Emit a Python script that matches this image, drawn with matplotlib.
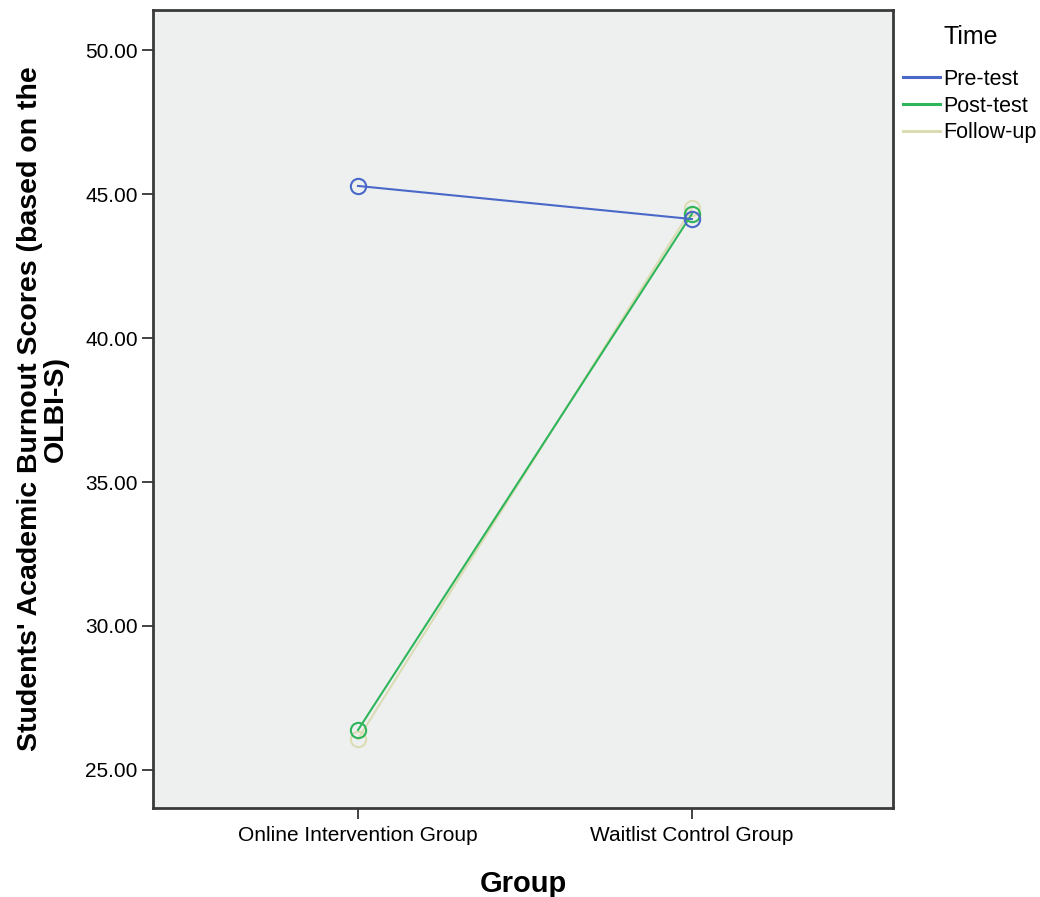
import matplotlib
matplotlib.use("Agg")
import matplotlib.pyplot as plt
from matplotlib.lines import Line2D

plt.rcParams['font.family'] = ['Liberation Sans', 'DejaVu Sans']

groups = ["Online Intervention Group", "Waitlist Control Group"]
series_names = ["Pre-test", "Post-test", "Follow-up"]
pre_test = [45.28, 44.13]
post_test = [26.39, 44.31]
follow_up = [26.08, 44.51]
y_ticks = [25.0, 30.0, 35.0, 40.0, 45.0, 50.0]
colors = ["#4a68c8", "#2fb55a", "#dcdcb4"]

fig = plt.figure(figsize=(10.4, 8.97), dpi=100)
ax = fig.add_axes([153/1040, 1-808/897, 740/1040, 798/897])
ax.set_facecolor("#eef0f0")

xs = list(range(len(groups)))
# draw in reverse order so Pre-test is on top
for vals, col in reversed(list(zip([pre_test, post_test, follow_up], colors))):
    ax.plot(xs, vals, color=col, lw=1.5, marker='o', markersize=11,
            markerfacecolor='none', markeredgecolor=col, markeredgewidth=1.5)

ax.set_xlim(-0.614, 1.602)
ax.set_ylim(23.68, 51.39)
ax.set_yticks(y_ticks)
ax.set_yticklabels([f"{v:.2f}" for v in y_ticks], fontsize=15)
ax.set_xticks(xs)
ax.set_xticklabels(groups, fontsize=15)
ax.tick_params(axis='both', length=8, width=1.2, color='#222222')
ax.tick_params(axis='x', pad=5)
ax.tick_params(axis='y', pad=3)
for s in ax.spines.values():
    s.set_color('#3a3a3a')
    s.set_linewidth(2.0)

ax.set_ylabel("Students' Academic Burnout Scores (based on the\nOLBI-S)",
              fontsize=20.5, fontweight='bold', labelpad=12, linespacing=0.95)
ax.set_xlabel("Group", fontsize=21, fontweight='bold', labelpad=18)

handles = [Line2D([0], [0], color=c, lw=2.2) for c in colors]
leg = fig.legend(handles, series_names, loc='upper left',
                 bbox_to_anchor=(903/1040, 1-69/897), frameon=False,
                 fontsize=15.5, handlelength=1.72, borderpad=0,
                 handletextpad=0.14, labelspacing=0.26, borderaxespad=0)
fig.text(943/1040, 1-37/897, "Time", fontsize=18, ha='left', va='center')

fig.savefig("out.png", dpi=100, facecolor='white')
